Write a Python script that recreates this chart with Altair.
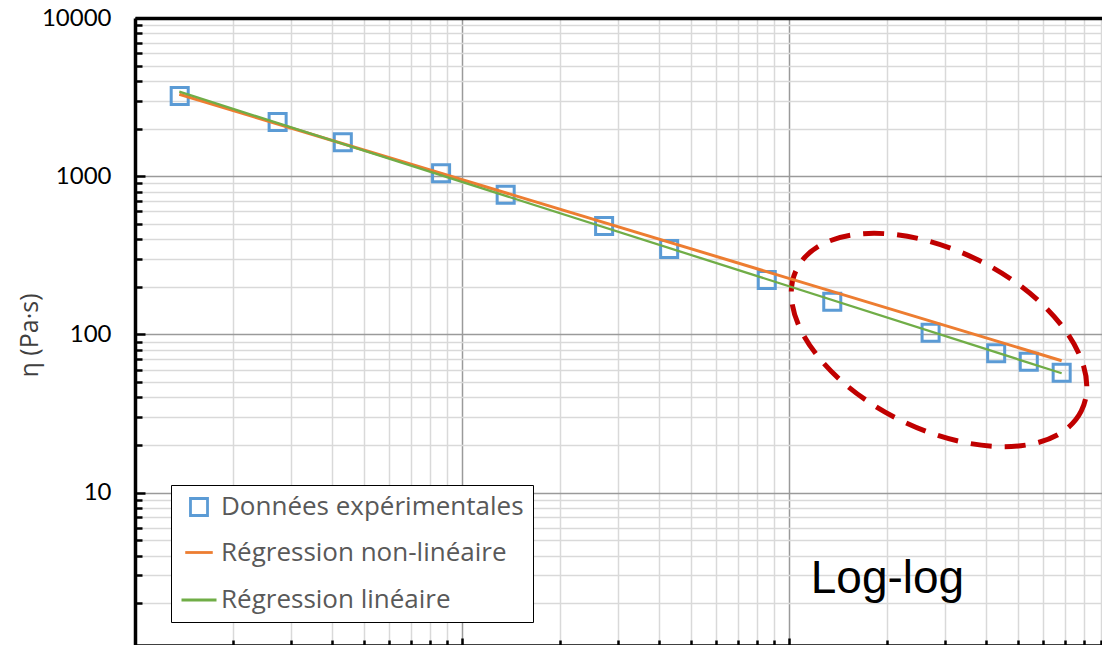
import altair as alt
import pandas as pd

# ---- data ----
shear_rate = [0.0137, 0.0273, 0.0432, 0.0863, 0.136, 0.272, 0.430, 0.855, 1.356, 2.71, 4.30, 5.41, 6.82]
viscosity = [3214, 2202, 1639, 1044, 764, 485, 347, 221, 161, 102.7, 76.1, 67.3, 57.4]

fit_x = [0.01366, 6.82]
fit_nonlin = [3296, 68.3]
fit_lin = [3422, 56.9]

series = ["Données expérimentales", "Régression non-linéaire", "Régression linéaire"]
colors = ["#5B9BD5", "#ED7D31", "#70AD47"]

y_major = [1, 10, 100, 1000, 10000]
x_major = [0.01, 0.1, 1]
multipliers = [2, 3, 4, 5, 6, 7, 8, 9]

annot_text = ["Log-log"]
annot_x = [2.0]
annot_y = [2.33]
ellipse_x = [2.876]
ellipse_y = [92.3]

# ---- tables ----
X_MAX = 9.06   # the picture is cropped just before x = 10
Y_MIN = 1.091  # the picture is cropped just above the bottom of the axis
y_minor = [round(m * d, 6) for d in y_major[:-1] for m in multipliers]
x_minor = [round(m * d, 6) for d in x_major for m in multipliers if m * d <= X_MAX]
y_all = sorted(y_major + y_minor)
x_all = sorted(x_major + x_minor)

df_pts = pd.DataFrame({"x": shear_rate, "y": viscosity, "serie": series[0]})
df_nl = pd.DataFrame({"x": fit_x, "y": fit_nonlin, "serie": series[1]})
df_l = pd.DataFrame({"x": fit_x, "y": fit_lin, "serie": series[2]})
df_txt = pd.DataFrame({"x": annot_x, "y": annot_y, "t": annot_text})
df_ell = pd.DataFrame({"x": ellipse_x, "y": ellipse_y})

xs = alt.Scale(type="log", domain=[0.01, X_MAX], nice=False)
ys = alt.Scale(type="log", domain=[Y_MIN, 10000], nice=False)

FONT = "Lato"
LFONT = "Open Sans"
major_y_test = "indexof([1,10,100,1000,10000], datum.value) >= 0"
major_x_test = "indexof([0.01,0.1,1,10], datum.value) >= 0"

leg = alt.Legend(
    title=None, orient="none", legendX=36, legendY=467,
    fillColor="white", strokeColor="black", padding=9,
    rowPadding=15, labelFont=LFONT, labelFontSize=26, labelColor="#595959",
    labelOffset=3, symbolStrokeWidth=2.8, labelLimit=400,
)
color_enc = alt.Color("serie:N", scale=alt.Scale(domain=series, range=colors), legend=leg)
shape_enc = alt.Shape("serie:N", scale=alt.Scale(domain=series, range=["square", "stroke", "stroke"]), legend=leg)
size_enc = alt.Size("serie:N", scale=alt.Scale(domain=series, range=[290, 1225, 1225]), legend=leg)

# axes
x_main = alt.Axis(orient="bottom", values=x_all, labels=False, ticks=False, title=None,
                  domain=True, domainColor="black", domainWidth=2.5,
                  grid=True, gridWidth=1.5,
                  gridColor={"condition": {"test": major_x_test, "value": "#9a9a9a"}, "value": "#d9d9d9"})
y_main = alt.Axis(orient="left", values=y_all, ticks=False, domain=True, domainColor="black", domainWidth=3.5,
                  grid=True, gridWidth=1.5,
                  gridColor={"condition": {"test": major_y_test, "value": "#9a9a9a"}, "value": "#d9d9d9"},
                  labelExpr=major_y_test + " ? format(datum.value, 'd') : ''",
                  labelFont=FONT, labelFontSize=24, labelColor="black", labelPadding=24,
                  labelFlush=False, labelOverlap=False, labelBound=False,
                  title="η (Pa·s)", titleFont=LFONT, titleFontSize=25, titleFontWeight="normal",
                  titleColor="#404040", titleAngle=270, titleX=-106, titleY=317,
                  titleAlign="center", titleBaseline="middle")
x_tmaj = alt.Axis(orient="bottom", values=x_major, labels=False, domain=False, grid=False, title=None,
                  ticks=True, tickSize=7, tickWidth=2.5, tickColor="black", offset=-7)
x_tmin = alt.Axis(orient="bottom", values=x_minor, labels=False, domain=False, grid=False, title=None,
                  ticks=True, tickSize=5, tickWidth=2.5, tickColor="black", offset=-5)
y_tmaj = alt.Axis(orient="left", values=y_major, labels=False, domain=False, grid=False, title=None,
                  ticks=True, tickSize=10, tickWidth=2.5, tickColor="black", offset=-10)
y_tmin = alt.Axis(orient="left", values=y_minor, labels=False, domain=False, grid=False, title=None,
                  ticks=True, tickSize=7, tickWidth=2.5, tickColor="black", offset=-7)
x_top = alt.Axis(orient="top", labels=False, ticks=False, grid=False, title=None,
                 domain=True, domainColor="black", domainWidth=3.5)

points = alt.Chart(df_pts).mark_point(filled=False, strokeWidth=3, opacity=1).encode(
    x=alt.X("x:Q", scale=xs, axis=x_main),
    y=alt.Y("y:Q", scale=ys, axis=y_main),
    color=color_enc, shape=shape_enc, size=size_enc,
)
line_nl = alt.Chart(df_nl).mark_line(strokeWidth=3).encode(
    x=alt.X("x:Q", scale=xs, axis=x_tmaj),
    y=alt.Y("y:Q", scale=ys, axis=y_tmaj),
    color=color_enc,
)
line_l = alt.Chart(df_l).mark_line(strokeWidth=2.3).encode(
    x=alt.X("x:Q", scale=xs, axis=x_tmin),
    y=alt.Y("y:Q", scale=ys, axis=y_tmin),
    color=color_enc,
)
ellipse_path = "M1.423,0.7095 A1.59,0.89,26.5,1,1,-1.423,-0.7095 A1.59,0.89,26.5,1,1,1.423,0.7095 Z"
ellipse = alt.Chart(df_ell).mark_point(
    shape=ellipse_path, size=40000, filled=False, stroke="#C00000", strokeWidth=5,
    strokeDash=[21, 13], opacity=1,
).encode(
    x=alt.X("x:Q", scale=xs, axis=x_top),
    y=alt.Y("y:Q", scale=ys, axis=None),
)
text = alt.Chart(df_txt).mark_text(
    font="Liberation Sans", fontSize=46, align="center", baseline="alphabetic", color="black"
).encode(
    x=alt.X("x:Q", scale=xs, axis=None),
    y=alt.Y("y:Q", scale=ys, axis=None),
    text="t:N",
)

chart = alt.layer(ellipse, points, line_nl, line_l, text).resolve_axis(
    x="independent", y="independent"
).properties(
    width=967, height=627,
    autosize=alt.AutoSizeParams(type="none"),
    padding={"left": 127, "top": 10, "right": 0, "bottom": 0},
    background="white",
).configure_view(stroke=None)

chart.save("out.html", embed_options={"renderer": "svg", "actions": False})
